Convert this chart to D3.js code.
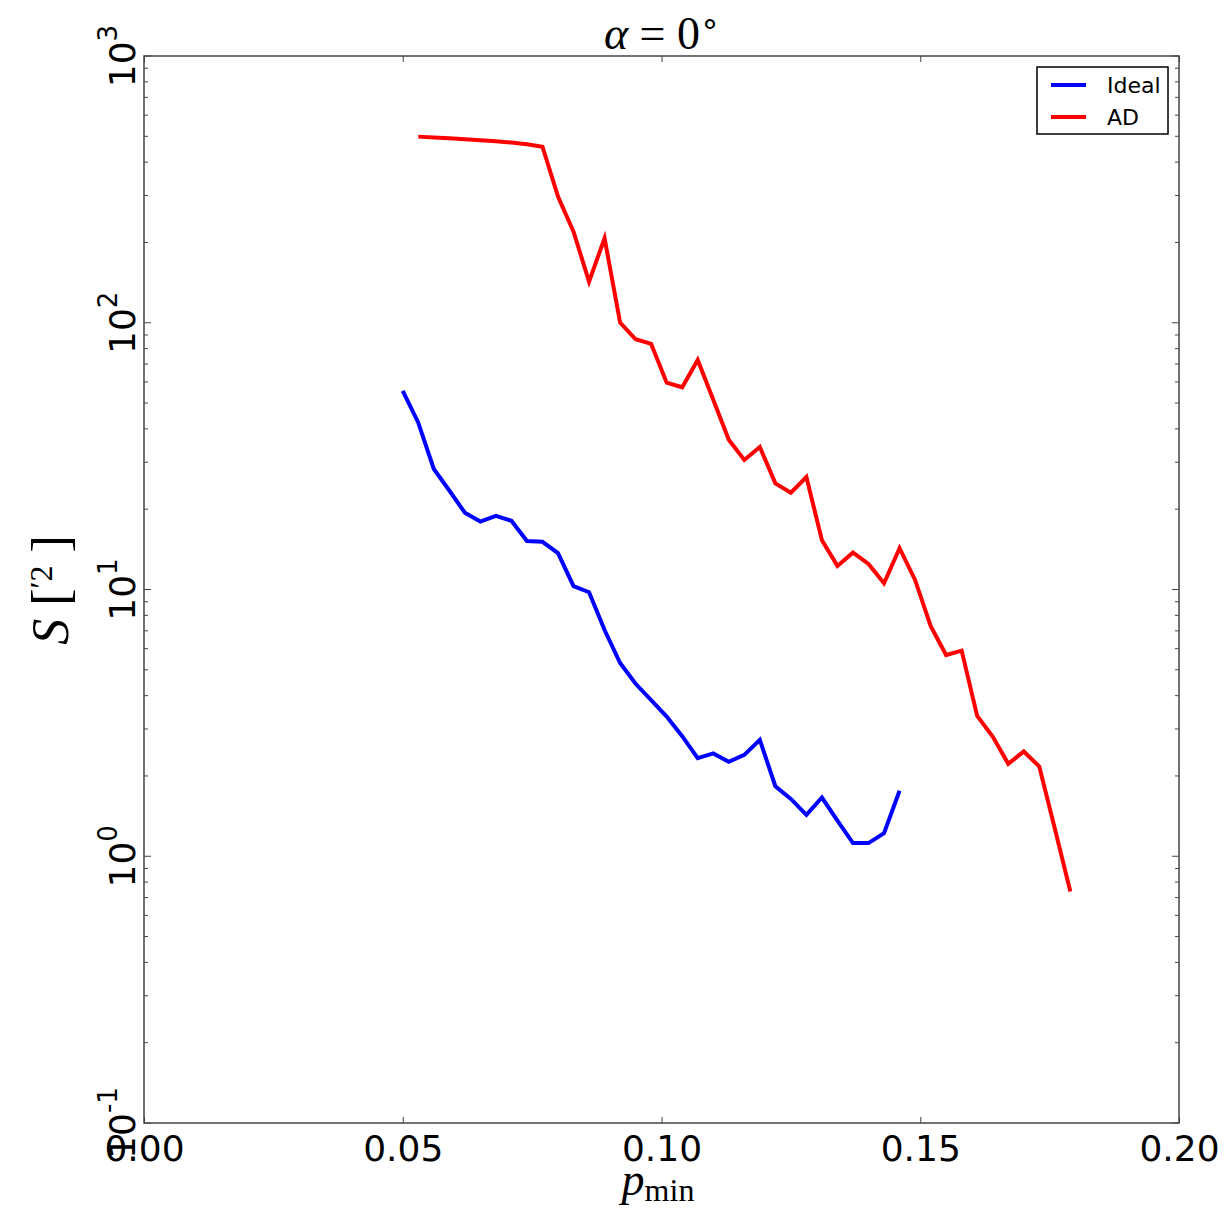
<!DOCTYPE html>
<html>
<head>
<meta charset="utf-8">
<script src="https://cdn.jsdelivr.net/npm/d3@7"></script>
<style>
  body { margin: 0; background: #fff; }
  svg { display: block; }
</style>
</head>
<body>
<script>
"use strict";

// p_min values (step 0.003) and S values
const idealP = [0.050,0.053,0.056,0.059,0.062,0.065,0.068,0.071,0.074,0.077,0.080,0.083,0.086,0.089,0.092,0.095,0.098,0.101,0.104,0.107,0.110,0.113,0.116,0.119,0.122,0.125,0.128,0.131,0.134,0.137,0.140,0.143,0.146];
const idealS = [55.6,42.2,28.3,23.5,19.4,17.97,18.87,18.1,15.2,15.1,13.7,10.3,9.77,7.05,5.3,4.43,3.85,3.34,2.82,2.33,2.43,2.26,2.40,2.73,1.83,1.64,1.43,1.66,1.36,1.12,1.12,1.22,1.76];

const adP = [0.053,0.056,0.059,0.062,0.065,0.068,0.071,0.074,0.077,0.080,0.083,0.086,0.089,0.092,0.095,0.098,0.101,0.104,0.107,0.110,0.113,0.116,0.119,0.122,0.125,0.128,0.131,0.134,0.137,0.140,0.143,0.146,0.149,0.152,0.155,0.158,0.161,0.164,0.167,0.170,0.173,0.176,0.179];
const adS = [498.6,495,491.7,487.8,483.7,478.9,473.9,466.9,457,297,219.5,142.6,207.4,100.1,86.7,83.3,59.6,57.3,72.5,51.4,36.4,30.6,34.2,25.0,23.07,26.4,15.3,12.26,13.75,12.47,10.55,14.28,10.86,7.30,5.68,5.90,3.36,2.81,2.22,2.47,2.17,1.27,0.737];

const xTicks = [0.00, 0.05, 0.10, 0.15, 0.20];
const yExponents = [-1, 0, 1, 2, 3];
const seriesNames = ["Ideal", "AD"];
const seriesColors = ["#0000ff", "#ff0000"];

const W = 1226, H = 1212;
const pLeft = 144, pRight = 1179, pTop = 56, pBottom = 1123;

const svg = d3.select("body").append("svg")
    .attr("width", W)
    .attr("height", H);

let x = d3.scaleLinear().domain([0, 0.2]).range([pLeft, pRight]);
let y = d3.scaleLog().domain([0.1, 1000]).range([pBottom, pTop]);

const axisColor = "#444";

// x ticks (inside, bottom and top)
const xAxis = d3.axisBottom(x).tickValues(xTicks).tickSizeInner(-6).tickSizeOuter(0)
    .tickPadding(12).tickFormat(d3.format(".2f"));
const gx = svg.append("g").attr("transform", `translate(0,${pBottom})`).call(xAxis);
gx.select(".domain").remove();
gx.selectAll(".tick line").attr("stroke", axisColor);
gx.selectAll(".tick text")
    .attr("fill", "#000")
    .style("font-family", "DejaVu Sans")
    .style("font-size", "36px");

const gxTop = svg.append("g").attr("transform", `translate(0,${pTop})`)
    .call(d3.axisTop(x).tickValues(xTicks).tickSizeInner(-6).tickSizeOuter(0).tickFormat(""));
gxTop.select(".domain").remove();
gxTop.selectAll(".tick line").attr("stroke", axisColor);

// y ticks: major and minor on both sides
const minor = y.ticks().filter(d => Math.abs(Math.log10(d) - Math.round(Math.log10(d))) > 1e-6);
const major = yExponents.map(e => Math.pow(10, e));
[[pLeft, 1], [pRight, -1]].forEach(([px, dir]) => {
  svg.append("g").selectAll("line").data(major).enter().append("line")
      .attr("x1", px).attr("x2", px + dir * 7)
      .attr("y1", d => y(d)).attr("y2", d => y(d))
      .attr("stroke", axisColor);
  svg.append("g").selectAll("line").data(minor).enter().append("line")
      .attr("x1", px).attr("x2", px + dir * 4)
      .attr("y1", d => y(d)).attr("y2", d => y(d))
      .attr("stroke", axisColor);
});

// y tick labels, rotated
const yl = svg.append("g").selectAll("text").data(yExponents).enter().append("text")
    .attr("transform", d => `translate(135,${y(Math.pow(10, d))}) rotate(-90)`)
    .attr("text-anchor", "middle")
    .style("font-family", "DejaVu Sans")
    .style("font-size", "36px");
yl.append("tspan").text("10");
yl.append("tspan").attr("dy", -18).style("font-size", "26px").text(d => d);

// frame
svg.append("rect")
    .attr("x", pLeft).attr("y", pTop)
    .attr("width", pRight - pLeft).attr("height", pBottom - pTop)
    .attr("fill", "none").attr("stroke", axisColor).attr("stroke-width", 1.5);

// lines
const line = d3.line().x(d => x(d[0])).y(d => y(d[1]));
const series = [
  d3.zip(idealP, idealS),
  d3.zip(adP, adS)
];
svg.append("g").selectAll("path").data(series).enter().append("path")
    .attr("d", line)
    .attr("fill", "none")
    .attr("stroke", (d, i) => seriesColors[i])
    .attr("stroke-width", 4)
    .attr("stroke-linejoin", "miter");

// title
const title = svg.append("text")
    .attr("x", 662).attr("y", 49)
    .attr("text-anchor", "middle")
    .style("font-family", "Liberation Serif")
    .style("font-size", "46px");
title.append("tspan").style("font-style", "italic").text("α");
title.append("tspan").text(" = 0");
title.append("tspan").attr("dy", -16).style("font-size", "32px").text("∘");

// x label
const xl = svg.append("text")
    .attr("x", 658).attr("y", 1195)
    .attr("text-anchor", "middle")
    .style("font-family", "Liberation Serif")
    .style("font-size", "46px");
xl.append("tspan").style("font-style", "italic").text("p");
xl.append("tspan").attr("dy", 6).style("font-size", "32px").text("min");

// y label
const ylab = svg.append("text")
    .attr("transform", "translate(68,590) rotate(-90)")
    .attr("text-anchor", "middle")
    .style("font-family", "Liberation Serif")
    .style("font-size", "52px");
ylab.append("tspan").style("font-style", "italic").text("S");
ylab.append("tspan").text(" [");
ylab.append("tspan").attr("dy", -16).style("font-size", "32px").text("′2");
ylab.append("tspan").attr("dy", 16).text(" ]");

// legend
const lg = svg.append("g");
lg.append("rect")
    .attr("x", 1037).attr("y", 67).attr("width", 131).attr("height", 67)
    .attr("fill", "#fff").attr("stroke", "#000").attr("stroke-width", 1.5);
const items = lg.selectAll("g").data(seriesNames).enter().append("g")
    .attr("transform", (d, i) => `translate(0,${85 + i * 32})`);
items.append("line")
    .attr("x1", 1051).attr("x2", 1086).attr("y1", 0).attr("y2", 0)
    .attr("stroke", (d, i) => seriesColors[i]).attr("stroke-width", 4);
items.append("text")
    .attr("x", 1107).attr("y", 8)
    .style("font-family", "DejaVu Sans")
    .style("font-size", "22px")
    .text(d => d);
</script>
</body>
</html>
